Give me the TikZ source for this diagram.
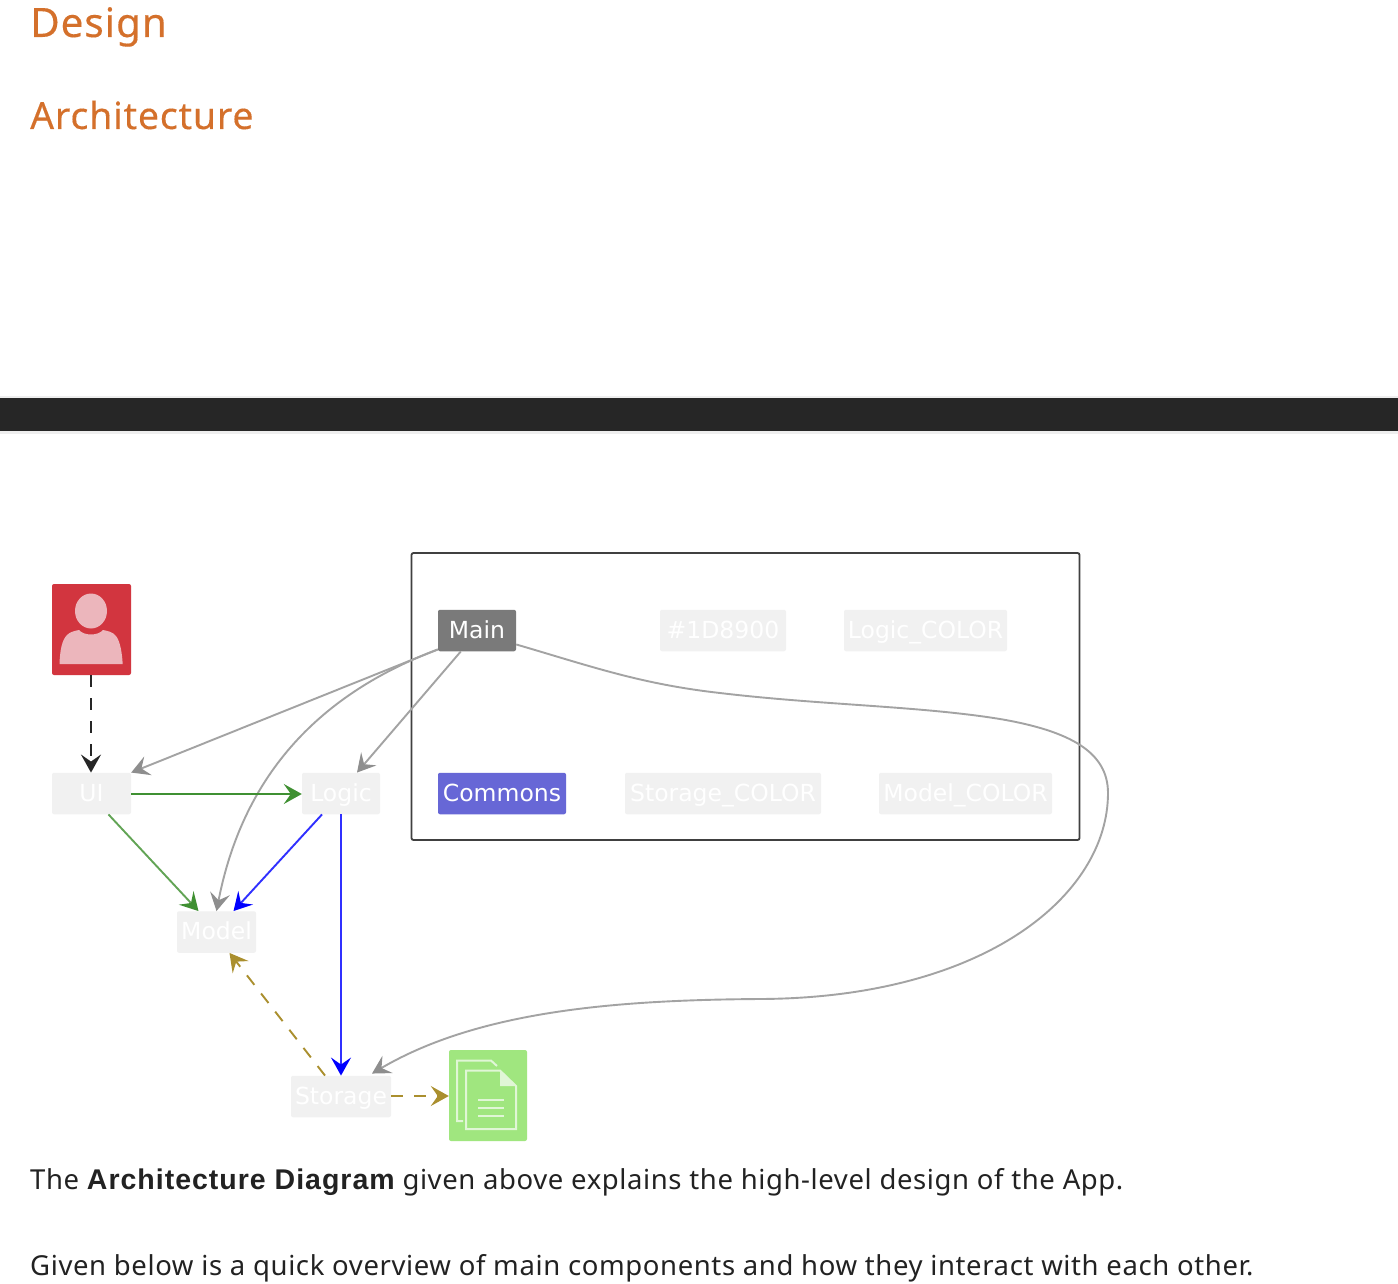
\documentclass[tikz,border=0pt]{standalone}
\usepackage{fontspec}
\setmainfont[LetterSpace=2.2]{Noto Sans}
\newfontfamily\headfont[LetterSpace=2.2,FakeBold=0.25]{Noto Sans}
\newfontfamily\strongfont[LetterSpace=3.5,BoldFont={Liberation Sans Bold}]{Liberation Sans}
\newfontfamily\diagfont{DejaVu Sans}
\usetikzlibrary{arrows.meta,positioning}
\definecolor{headc}{HTML}{D4702B}
\definecolor{bodyc}{HTML}{222222}
\definecolor{barc}{HTML}{262626}
\definecolor{barline}{HTML}{EEEEEE}
\definecolor{pale}{HTML}{F1F1F1}
\definecolor{mainc}{HTML}{7A7A7A}
\definecolor{commonc}{HTML}{6767D6}
\definecolor{userc}{HTML}{D2353F}
\definecolor{userl}{HTML}{ECB6BC}
\definecolor{filec}{HTML}{A0E67F}
\definecolor{filel}{HTML}{E0F6D6}
\definecolor{greyl}{HTML}{A3A3A3}
\definecolor{greya}{HTML}{8E8E8E}
\definecolor{greenl}{HTML}{3F9032}
\definecolor{greenm}{HTML}{62A455}
\definecolor{bluel}{HTML}{3030FF}
\definecolor{goldl}{HTML}{AA8F2E}
\tikzset{
  x=1pt,y=-1pt,
  comp/.style={rounded corners=2pt,text=white,font=\diagfont\fontsize{23.5}{23.5}\selectfont,inner sep=0pt,minimum height=41.5pt,text depth=2pt,anchor=center,align=center},
  palebox/.style={comp,fill=pale},
  heading/.style={text=headc,anchor=base west,inner sep=0pt},
  bodytext/.style={text=bodyc,anchor=base west,inner sep=0pt,font=\fontsize{27.5}{30}\selectfont},
  conn/.style={line width=1.9pt},
  tipgrey/.style={-{Stealth[length=18pt,width=20pt,inset=7pt,color=greya]}},
  tipblack/.style={-{Stealth[length=18pt,width=20pt,inset=7pt,color=black!85]}},
  tipgreen/.style={-{Stealth[length=18pt,width=20pt,inset=7pt,color=greenl]}},
  tipblue/.style={-{Stealth[length=18pt,width=20pt,inset=7pt,color=blue]}},
  tipgold/.style={-{Stealth[length=18pt,width=20pt,inset=7pt,color=goldl]}},
  greyconn/.style={conn,draw=greyl,tipgrey},
  dashconn/.style={conn,dash pattern=on 12pt off 11pt},
  iconbox/.style={rounded corners=2pt,inner sep=0pt},
}
\begin{document}
\begin{tikzpicture}
\useasboundingbox (0,0) rectangle (1398,1284);
\fill[white] (0,0) rectangle (1398,1284);
% page chrome
\fill[barline] (0,396) rectangle (1398,434);
\fill[barc] (0,398) rectangle (1398,431);
\node[heading,font=\headfont\fontsize{40.5}{44}\selectfont] (hdesign) at (30,37) {Design};
\node[heading,font=\headfont\fontsize{37.4}{40}\selectfont] (harch) at (30,129) {Architecture};
% frame
\node[draw=black!75,line width=1.8pt,rounded corners=2pt,minimum width=668pt,minimum height=287pt,inner sep=0pt,anchor=center] (frame) at (745.5,696.5) {};
% components
\node[palebox,minimum width=79pt] (ui) at (91.5,793.5) {UI};
\node[palebox,minimum width=78pt] (logic) at (341,793.5) {Logic};
\node[palebox,minimum width=79pt] (model) at (216.5,932) {Model};
\node[palebox,minimum width=100pt] (storage) at (341,1096.5) {Storage};
\node[comp,fill=mainc,minimum width=78pt] (main) at (477,630.5) {Main};
\node[palebox,minimum width=126pt] (c1) at (723,630.5) {\#1D8900};
\node[palebox,minimum width=163pt] (c2) at (925.5,630.5) {Logic\_COLOR};
\node[comp,fill=commonc,minimum width=128pt] (commons) at (502,793.5) {Commons};
\node[palebox,minimum width=196pt] (c3) at (723,793.5) {Storage\_COLOR};
\node[palebox,minimum width=173pt] (c4) at (965.5,793.5) {Model\_COLOR};
% user icon
\node[iconbox,fill=userc,minimum width=79pt,minimum height=91pt] (user) at (91.5,629.5) {};
\fill[userl] (91,611) ellipse [x radius=16,y radius=17.5];
\fill[userl] (59.5,664) .. controls (60,650) and (62,640) .. (67,635) .. controls (70,632) and (74,631) .. (79,630) .. controls (84,636) and (98,636) .. (103,630) .. controls (108,631) and (113,632) .. (116,636) .. controls (120,641) and (122,652) .. (122.7,664) -- cycle;
% file icon
\node[iconbox,fill=filec,minimum width=78pt,minimum height=91pt] (file) at (488,1095.5) {};
\begin{scope}[line width=2pt,draw=filel]
\draw (463,1121) -- (457,1121) -- (457,1060.5) -- (491,1060.5) -- (497,1066);
\draw (466,1070.5) -- (500,1070.5) -- (516,1086) -- (516,1129) -- (466,1129) -- cycle;
\fill[filel] (500,1071) -- (500,1086) -- (515.5,1086) -- cycle;
\draw (478,1100) -- (504,1100);
\draw (478,1107.5) -- (504,1107.5);
\draw (478,1115.5) -- (504,1115.5);
\end{scope}
% connectors
\draw[dashconn,draw=black!85,tipblack] ([xshift=-0.5pt]user.south) -- ([xshift=-0.5pt]ui.north);
\draw[greyconn] ([yshift=2pt]main.south west) -- (ui.north east);
\draw[greyconn] ([yshift=2pt]main.south west) .. controls (330,690) and (245,765) .. (model.north);
\draw[greyconn] ([xshift=23pt]main.south west) -- ([xshift=16pt]logic.north);
\draw[conn,draw=greenl,tipgreen] ([yshift=-0.5pt]ui.east) -- ([yshift=-0.5pt]logic.west);
\draw[conn,draw=greenm,tipgreen] ([xshift=17pt]ui.south) -- ([xshift=-18pt]model.north);
\draw[conn,draw=bluel,tipblue] ([xshift=-19pt]logic.south) -- ([xshift=17pt]model.north);
\draw[conn,draw=bluel,tipblue] (logic) -- (storage);
\draw[dashconn,draw=goldl,tipgold] ([xshift=-16pt]storage.north) -- ([xshift=13pt]model.south);
\draw[dashconn,draw=goldl,tipgold] ([yshift=0.5pt]storage.east) -- ([yshift=-0.5pt]file.west);
\draw[greyconn] ([yshift=7pt]main.south east) .. controls (590,666) and (640,684) .. (720,693) .. controls (820,705) and (920,706) .. (1000,719) .. controls (1070,731) and (1108,752) .. (1108,793) .. controls (1108,895) and (985,998) .. (760,999) .. controls (620,1000) and (480,1010) .. ([xshift=31pt,yshift=2pt]storage.north);
% text
\node[bodytext] (p1) at (30,1189) {The {\strongfont\bfseries\fontsize{28.5}{30}\selectfont Architecture Diagram} given above explains the high-level design of the App.};
\node[bodytext] (p2) at (30,1275) {Given below is a quick overview of main components and how they interact with each other.};
\end{tikzpicture}
\end{document}
